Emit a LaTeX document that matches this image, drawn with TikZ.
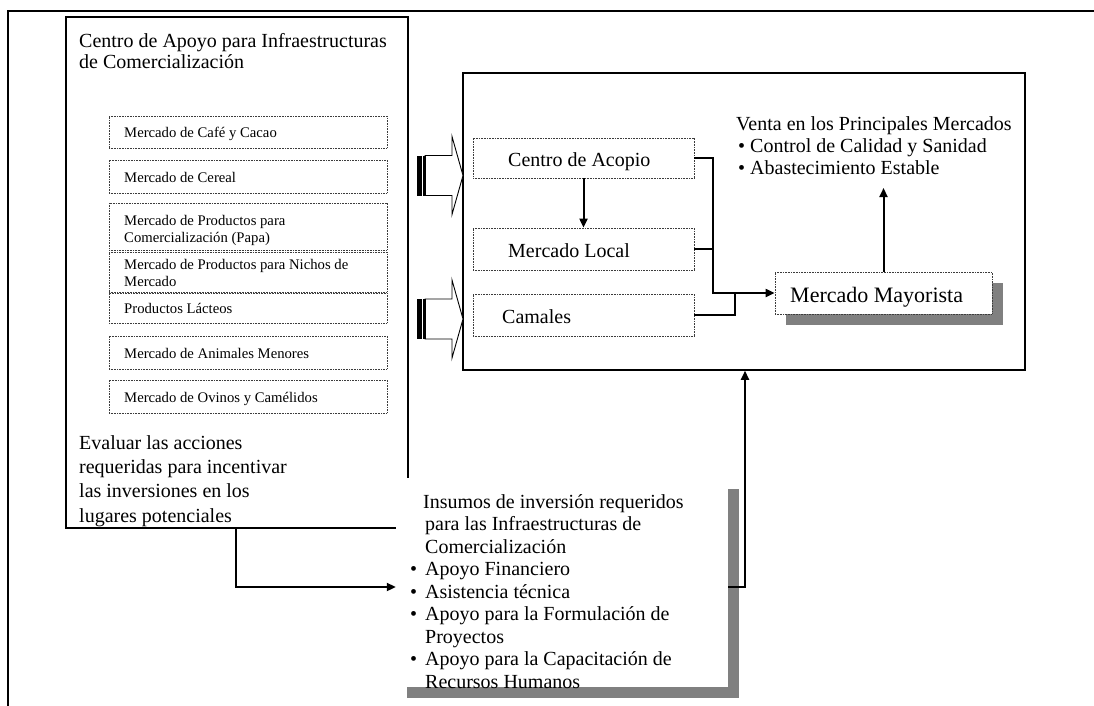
\documentclass[tikz,border=0pt]{standalone}
\usepackage{fontspec}
\setmainfont{Liberation Serif}
\usetikzlibrary{arrows.meta,calc,shadows}
\definecolor{shgray}{RGB}{128,128,128}
\definecolor{dotgray}{RGB}{60,60,60}
\newcommand{\bl}{\hspace*{2pt}\makebox[12pt][l]{•}}
\newcommand{\ib}{\makebox[15pt][l]{•}}
\newcommand{\ind}{\hspace*{15pt}}
\begin{document}
\begin{tikzpicture}[x=1pt,y=-1pt,
  frame/.style={line width=2.4pt},
  bigbox/.style={draw, line width=1.5pt, fill=white, inner sep=0},
  dotbox/.style={draw=dotgray, line width=0.8pt, dash pattern=on 0.8pt off 0.8pt, inner sep=0},
  txt/.style={inner sep=0, anchor=base west, align=left, font=\fontsize{20}{22}\selectfont},
  small/.style={inner sep=0, anchor=base west, align=left, font=\fontsize{14.7}{17.5}\selectfont},
  conn/.style={line width=2pt, -{Triangle[length=9pt,width=8pt]}},
  plain/.style={line width=2pt},
  shbox/.style={fill=white, inner sep=0, general shadow={fill=shgray, shadow xshift=11pt, shadow yshift=-11pt}},
]
\useasboundingbox (0,0) rectangle (1094,706);
% outer frame
\draw[frame] (1094,11) -- (8,11) -- (8,706);

% left box (multi-line nodes are placed by the baseline of their last line)
\node[bigbox, minimum width=342, minimum height=511] (lbox) at (237,272.5) {};
\node[txt, font=\fontsize{20}{21}\selectfont] (ltitle) at (79,69) {Centro de Apoyo para Infraestructuras\\de Comercialización};

\node[dotbox, minimum width=278, minimum height=32] (m1) at (248,132) {};
\node[dotbox, minimum width=278, minimum height=33] (m2) at (248,176.5) {};
\node[dotbox, minimum width=278, minimum height=47] (m3) at (248,226.5) {};
\node[dotbox, minimum width=278, minimum height=40] (m4) at (248,272) {};
\node[dotbox, minimum width=278, minimum height=30] (m5) at (248,308) {};
\node[dotbox, minimum width=278, minimum height=33] (m6) at (248,352.5) {};
\node[dotbox, minimum width=278, minimum height=33] (m7) at (248,396.5) {};
\node[small] (t1) at (124,137) {Mercado de Café y Cacao};
\node[small] (t2) at (124,182) {Mercado de Cereal};
\node[small] (t3) at (124,242.5) {Mercado de Productos para\\Comercialización (Papa)};
\node[small] (t4) at (124,286.5) {Mercado de Productos para Nichos de\\Mercado};
\node[small] (t5) at (124,313) {Productos Lácteos};
\node[small] (t6) at (124,358) {Mercado de Animales Menores};
\node[small] (t7) at (124,402) {Mercado de Ovinos y Camélidos};

\node[txt, font=\fontsize{20}{24.3}\selectfont] (evaluar) at (79,522) {Evaluar las acciones\\requeridas para incentivar\\las inversiones en los\\lugares potenciales};

% main box
\node[bigbox, minimum width=562, minimum height=297] (main) at (744,221.5) {};

% block arrows
\foreach \c in {175.5,319}{
  \filldraw[fill=white, line width=0.9pt] (425,\c-20) -- (452,\c-20) -- (452,\c-39) -- (463,\c) -- (452,\c+39) -- (452,\c+20) -- (425,\c+20) -- cycle;
  \fill (417,\c-20) rectangle (422,\c+20);
  \fill (423,\c-20) rectangle (425.5,\c+20);
}

\node[dotbox, minimum width=221, minimum height=40] (acopio) at (583.5,158) {};
\node[dotbox, minimum width=221, minimum height=42] (local) at (583.5,249) {};
\node[dotbox, minimum width=221, minimum height=42] (camales) at (583.5,315) {};
\node[txt] (tacopio) at (508,166) {Centro de Acopio};
\node[txt] (tlocal) at (508,257) {Mercado Local};
\node[txt] (tcamales) at (502,323) {Camales};

\node[shbox, dotbox, minimum width=217, minimum height=42] (mayor) at (883.5,293) {};
\node[txt, font=\fontsize{22}{24}\selectfont] (tmayor) at (790,302) {Mercado Mayorista};

\node[txt] (venta) at (736,174) {Venta en los Principales Mercados\\\bl Control de Calidad y Sanidad\\\bl Abastecimiento Estable};

% connectors in main box
\draw[conn] (acopio.south) -- (local.north);
\draw[conn] (acopio.east) -- ++(19,0) |- (mayor.west);
\draw[plain] (local.east) -- ++(19,0);
\draw[plain] (camales.east) -| ($(mayor.west)+(-40,0)$);
\coordinate (ventab) at (883.5,188);
\draw[conn] (mayor.north) -- (ventab);

% insumos box
\node[shbox, minimum width=332, minimum height=209] (insumos) at (562,582.5) {};
\node[txt, font=\fontsize{20}{22.5}\selectfont] (tinsumos) at (410,688) {\hspace*{13pt}Insumos de inversión requeridos\\\ind para las Infraestructuras de\\\ind Comercialización\\\ib Apoyo Financiero\\\ib Asistencia técnica\\\ib Apoyo para la Formulación de\\\ind Proyectos\\\ib Apoyo para la Capacitación de\\\ind Recursos Humanos};

\coordinate (ev) at (236,587);
\draw[conn] (lbox.south -| ev) -- (ev) -- (ev -| insumos.west);
\coordinate (upc) at (745,587);
\draw[conn] (insumos.east |- upc) -- (upc) -- (upc |- main.south);
\end{tikzpicture}
\end{document}
